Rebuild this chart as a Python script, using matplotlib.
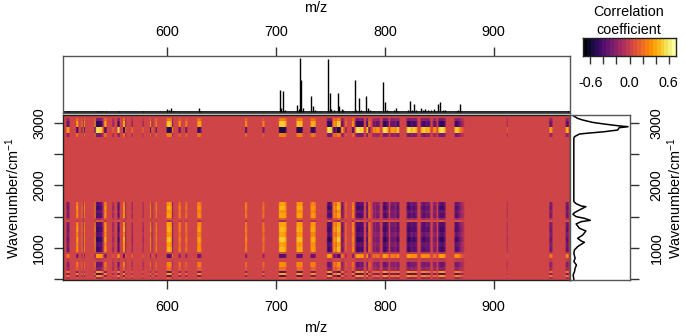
import numpy as np
import matplotlib
matplotlib.use("Agg")
import matplotlib.pyplot as plt
import matplotlib.colors as mcolors

plt.rcParams['font.family'] = ['Liberation Sans', 'DejaVu Sans']
plt.rcParams['font.size'] = 10.4
plt.rcParams['mathtext.default'] = 'regular'

W, H = 686, 336

# wavenumber band edges (top to bottom) and correlation of a "positive" ion in each band
band_edges = [3125, 3090, 3030, 2935, 2840, 2775, 1735, 1680, 1620, 1560, 1480, 1447, 1415,
              1340, 1260, 1180, 1100, 1020, 936, 904, 840, 776, 700, 633, 600, 568, 537, 505, 490]
band_corr = [0.0, 0.26, 0.5, -0.56, 0.28, 0.0, 0.36, 0.44, 0.34, 0.4, 0.14, -0.12, 0.4,
             0.46, 0.36, 0.48, 0.38, 0.44, 0.06, -0.38, 0.05, 0.3, 0.22, -0.36, 0.4, -0.36, 0.16, 0.0]

# runs of ions with non-zero correlation: first m/z, weight of each 1 Da column
run_mz = [508, 517, 522, 534, 543, 550, 555, 560, 568, 578, 585, 590, 600, 611, 617, 628,
          672, 688, 703, 719, 732, 747, 753, 756, 760, 764, 770, 773, 783, 789, 798, 805,
          811, 820, 833, 844, 849, 864, 912, 951, 966]
run_weight = [
    [-.5, -.7, -.6], [.7, .8], [.6, -.5, .7], [.8, -.9, -1, -1, -.9, -1, -.8, -.4], [.9, .7],
    [-.3, -.3], [-1, -.8], [.8, .8, -.5], [-.5], [-.4], [.8, -.5], [.7],
    [.9, .95, 1, .9, .7, -.5], [.6, .6], [.45, .5], [.7, .8, .8, .6],
    [.7, .5], [.6, .4], [.9, 1, 1, 1, 1, .9, .8], [.8, 1, .9, .9, 1, .7], [.8, .8, .9, .8, .6],
    [-.8, -1, -1, -.9, -.9, .4], [.7, .8, .3], [1, 1, 1, .6], [-.6, -.7, -.3], [.5], [.6, .7],
    [-.6, -1, -1, -1, -.9, -.9, -1, -.7], [-.7, -.8, .6, .4], [-.5, -.6, -.4, -.6, -.6, -.6, -.4],
    [-.8, -1, -1, -.9, -.8, -.5], [-.6, -.7, -.7, -.6, -.7, -.4], [-.9, -.9, -.4],
    [-.7, -1, -1, -.9, -.8, -.8, -.9, -.9, -.8, -.7], [-.7, -.8, -.9, -.9, -.8, -.7, -.8, -.8, -.6],
    [-.4, -.6, -.6, -.4], [-.7, -.9, -1, -1, -1, -.9, -.7],
    [-.8, -.9, -.9, -.8, -.7, -.5, -.4, -.3, -.2], [-.25], [-.6, -.7, -.5], [-.7, -.8, -.6],
]

# mean mass spectrum (stick peaks)
peak_mz = [703.4, 706.1, 719.6, 722, 723.2, 732.4, 734.3, 629, 603.7, 600.3, 748.3, 749.9, 756.6,
           758.1, 760.3, 772.8, 775.9, 782.9, 784.4, 798.8, 800.6, 810.7, 822.9, 826.9, 833,
           837.3, 844.7, 848.9, 851.1, 868.8,
           508, 510, 518, 523, 536, 538, 540, 544, 556, 560, 563, 578, 586, 590, 602, 606, 612, 618,
           631, 672, 689, 705, 708, 721, 725, 736, 751, 753, 762, 771, 774, 778, 786, 790, 795,
           802, 805, 808, 812, 821, 825, 829, 835, 840, 842, 847, 853, 855, 865, 867, 870, 912, 951, 968]
peak_height = [41, 39, 13, 100, 60, 30, 11, 9, 9, 6, 98, 35, 36,
               11, 7, 59, 26, 30, 9, 57, 20, 9, 21, 15, 9,
               7, 7, 15, 20, 15,
               2, 2, 1.5, 1.5, 2, 3, 2.5, 2, 2, 1.5, 1.5, 2, 1.5, 1.5, 4, 3, 1.5, 1.5,
               3, 1.5, 1.5, 8, 5, 7, 8, 5, 6, 4, 4, 3, 5, 4, 4, 3, 3,
               4, 3, 4, 3, 4, 5, 5, 4, 5, 4, 3, 5, 4, 3, 4, 3, 1, 1.5, 2]

# mean spectrum for the side panel
spec_wn = [3108, 3071, 3045, 3007, 2981, 2954, 2938, 2922, 2885, 2858, 2832, 2821, 2779, 2752,
           1741, 1709, 1672, 1661, 1608, 1566, 1539, 1502, 1475, 1443, 1422, 1385, 1316, 1273,
           1209, 1156, 1113, 1092, 1023, 970, 917, 837, 784, 730, 677, 624, 571, 502]
spec_abs = [.045, .11, .197, .365, .56, .79, .966, .815, .79, .56, .25, .14, .056, .045,
            .045, .084, .17, .25, .14, .056, .03, .084, .225, .326, .17, .084, .14, .25,
            .197, .11, .17, .225, .11, .056, .045, .067, .045, .09, .067, .056, .034, .045]

mz_ticks = [600, 700, 800, 900]
wn_ticks = [500, 1000, 1500, 2000, 2500, 3000]
wn_labels = ['', '1000', '', '2000', '', '3000']
cbar_ticks = [-0.6, -0.4, -0.2, 0.0, 0.2, 0.4, 0.6]
cbar_labels = ['-0.6', '', '', '0.0', '', '', '0.6']


def px_axes(fig, x0, y0, x1, y1):
    """Axes from pixel box, y counted from the top."""
    return fig.add_axes([x0 / W, 1 - y1 / H, (x1 - x0) / W, (y1 - y0) / H])


def px_text(fig, x, y, s, **kw):
    fig.text(x / W, 1 - y / H, s, ha='center', va='center', **kw)


def frame(ax, color='#222222'):
    for s in ax.spines.values():
        s.set_linewidth(1.0)
        s.set_color(color)


# inferno, bent so that zero lands on the brick red of the original
pos = np.interp(np.linspace(0, 1, 24), [0, 0.5, 1], [0.02, 0.535, 1.0])
cmap = mcolors.ListedColormap(plt.get_cmap('inferno')(pos))
norm = mcolors.Normalize(-0.71, 0.71)

mz_min, mz_max = 504.6, 970.0
mz_centers = np.arange(505, 971)
weights = np.zeros(len(mz_centers))
for start, vals in zip(run_mz, run_weight):
    for i, v in enumerate(vals):
        weights[start - 505 + i] = v

# bands resampled on a regular wavenumber grid so imshow can draw them
wn_grid = np.arange(3125, 490, -16.0)
band_idx = np.searchsorted(-np.array(band_edges), -wn_grid, side='right') - 1
band_idx = np.clip(band_idx, 0, len(band_corr) - 1)
Z = np.outer(np.array(band_corr)[band_idx], weights)

fig = plt.figure(figsize=(W / 100, H / 100), dpi=100)

# heat map
ax = px_axes(fig, 63, 115, 570, 280)
ax.imshow(Z, cmap=cmap, norm=norm, aspect='auto', interpolation='bilinear',
          extent=(505, 971, 490, 3125), origin='upper')
ax.set_xlim(mz_min, mz_max)
ax.set_ylim(490, 3125)
ax.set_xticks(mz_ticks)
ax.set_yticks(wn_ticks)
ax.set_yticklabels(wn_labels, rotation=90, va='center')
ax.tick_params(axis='x', length=6.2, width=1.0, color='#333333', pad=8)
ax.tick_params(axis='y', length=6.2, width=1.0, color='#333333', pad=6)
frame(ax)

# mean mass spectrum on top
top = px_axes(fig, 63, 56, 570, 113)
top.vlines(peak_mz, 0, peak_height, color='black', lw=1.0)
top.axhline(0, color='black', lw=1.2)
top.set_xlim(mz_min, mz_max)
top.set_ylim(-1, 104)
top.xaxis.set_ticks_position('top')
top.set_xticks(mz_ticks)
top.set_yticks([])
top.tick_params(length=6.2, width=1.0, color='#333333', pad=6)
frame(top, '#555555')

# mean spectrum on the right
side = px_axes(fig, 570, 115, 630, 280)
side.plot(spec_abs, spec_wn, color='black', lw=1.1)
side.set_xlim(-0.02, 1.0)
side.set_ylim(490, 3125)
side.set_xticks([])
side.yaxis.set_ticks_position('right')
side.set_yticks(wn_ticks)
side.set_yticklabels(wn_labels, rotation=90, va='center')
side.tick_params(length=6.2, width=1.0, color='#333333', pad=8)
frame(side, '#555555')

# colour key
key = px_axes(fig, 583, 38, 676, 56)
levels = np.linspace(-0.71, 0.71, 25)
key.pcolormesh(levels, [0, 1], ((levels[:-1] + levels[1:]) / 2)[None, :], cmap=cmap, norm=norm)
key.set_xlim(-0.71, 0.71)
key.set_yticks([])
key.set_xticks(cbar_ticks)
key.set_xticklabels(cbar_labels)
key.tick_params(length=5.8, width=1.0, color='#333333', pad=8.5)
frame(key)

px_text(fig, 629, 12, 'Correlation')
px_text(fig, 629, 30, 'coefficient')
px_text(fig, 316, 8, 'm/z')
px_text(fig, 316, 328, 'm/z')
px_text(fig, 13, 198, 'Wavenumber/cm$^{-1}$', rotation=90)
px_text(fig, 675, 198, 'Wavenumber/cm$^{-1}$', rotation=90)

fig.savefig('out.png', dpi=100)
